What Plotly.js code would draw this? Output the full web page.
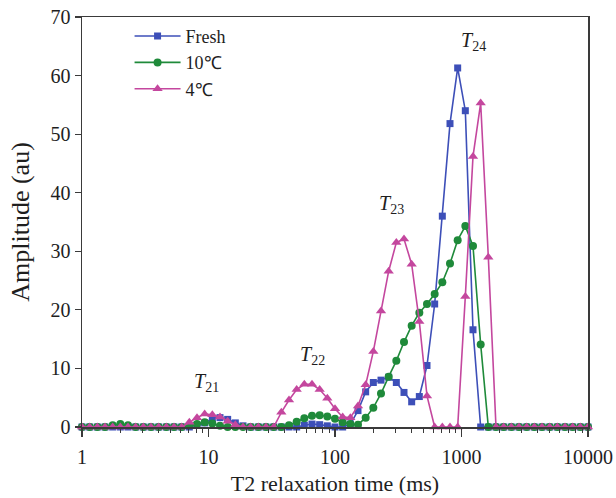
<!DOCTYPE html>
<html>
<head>
<meta charset="utf-8">
<script src="https://cdn.plot.ly/plotly-3.0.1.min.js"></script>
<style>html,body{margin:0;padding:0;background:#fff;}</style>
</head>
<body>
<div id="chart" style="width:616px;height:498px;"></div>
<script>
// T2 relaxation time grid (ms)
const t2 = [1, 1.1498, 1.3219, 1.5199, 1.7475, 2.0092, 2.3101, 2.6561, 3.0539, 3.5112,
  4.0370, 4.6416, 5.3367, 6.1359, 7.0548, 8.1113, 9.3260, 10.7227, 12.3285, 14.1747,
  16.2975, 18.7382, 21.5443, 24.7708, 28.4804, 32.7455, 37.6494, 43.2876, 49.7702, 57.2237,
  65.7933, 75.6463, 86.9749, 100, 114.976, 132.194, 151.991, 174.753, 200.923, 231.013,
  265.609, 305.386, 351.119, 403.702, 464.159, 533.670, 613.591, 705.480, 811.131, 932.603,
  1072.27, 1232.85, 1417.47, 1629.75, 1873.82, 2154.43, 2477.08, 2848.04, 3274.55, 3764.94,
  4328.76, 4977.02, 5722.37, 6579.33, 7564.63, 8697.49, 10000];

const fresh = [0,0,0,0,0,0,0,0,0,0,
  0,0,0,0,0,0.3,0.7,1.4,1.6,1.3,
  0.7,0.2,0,0,0,0,0,0,0,0.3,
  0.5,0.4,0.2,0,0,0.5,2.8,6.0,7.6,8.0,
  8.5,7.6,5.9,4.3,5.2,10.5,21.0,36.0,51.8,61.3,
  54.0,16.6,0,0,0,0,0,0,0,0,
  0,0,0,0,0,0,0];

const c10 = [0,0,0,0,0.3,0.5,0.3,0,0,0,
  0,0,0,0,0.3,0.5,0.8,0.6,0.2,0,
  0,0,0,0,0,0,0,0.3,0.9,1.5,
  1.9,2.0,1.8,1.4,0.8,0.5,0.4,1.6,3.3,5.7,
  8.6,11.3,14.5,17.3,19.5,21.0,22.7,24.7,27.9,31.9,
  34.3,30.9,14.1,0,0,0,0,0,0,0,
  0,0,0,0,0,0,0];

const c4 = [0,0,0,0,0,0,0,0,0,0,
  0,0,0,0,0.8,1.6,2.2,2.1,1.7,1.0,
  0.4,0,0,0,0,0,2.5,4.6,6.4,7.3,
  7.3,6.4,4.9,3.1,1.7,1.6,3.6,7.2,12.9,19.8,
  26.6,31.5,32.1,27.8,18.0,5.3,0,0,0,0,
  22.3,46.2,55.3,29.0,0,0,0,0,0,0,
  0,0,0,0,0,0,0];

const seriesNames = ['Fresh', '10\u2103', '4\u2103'];
const xTickVals = [1, 10, 100, 1000, 10000];
const xTickText = ['1', '10', '100', '1000', '10000'];
const peakLabels = ['<i>T</i><sub>21</sub>', '<i>T</i><sub>22</sub>', '<i>T</i><sub>23</sub>', '<i>T</i><sub>24</sub>'];
const peakX = [9.6, 66, 282, 1250];
const peakY = [7.6, 12.2, 38, 65.8];

const font = 'Liberation Serif, Times New Roman, serif';
const axisColor = '#3a3a3a';
const textColor = '#1e1e1e';

const traces = [
  {x: t2, y: fresh, name: seriesNames[0], mode: 'lines+markers', cliponaxis: false,
   line: {color: '#3d4fb8', width: 1.6}, marker: {symbol: 'square', size: 7, color: '#3d4fb8'}},
  {x: t2, y: c10, name: seriesNames[1], mode: 'lines+markers', cliponaxis: false,
   line: {color: '#1f8a3a', width: 1.6}, marker: {symbol: 'circle', size: 8, color: '#1f8a3a'}},
  {x: t2, y: c4, name: seriesNames[2], mode: 'lines+markers', cliponaxis: false,
   line: {color: '#c4479e', width: 1.6}, marker: {symbol: 'triangle-up', size: 9, color: '#c4479e'}}
];

const layout = {
  width: 616, height: 498,
  margin: {l: 82, r: 28, t: 17, b: 71},
  paper_bgcolor: '#fff', plot_bgcolor: '#fff',
  font: {family: font, size: 20, color: textColor},
  showlegend: true,
  legend: {x: 0.094, y: 0.998, xanchor: 'left', yanchor: 'top', bgcolor: 'rgba(0,0,0,0)',
           font: {family: font, size: 18, color: textColor}, tracegroupgap: 0, itemwidth: 46},
  xaxis: {type: 'log', range: [0, 4], tickmode: 'array', tickvals: xTickVals, ticktext: xTickText,
          ticks: 'outside', ticklen: 8, tickwidth: 1.2, tickcolor: axisColor,
          minor: {ticks: 'outside', ticklen: 4, tickwidth: 1, tickcolor: axisColor, dtick: 'D1', showgrid: false},
          showline: true, linecolor: axisColor, linewidth: 1.5, mirror: true,
          showgrid: false, zeroline: false, ticklabelstandoff: 3,
          tickfont: {family: font, size: 20, color: textColor},
          title: {text: 'T2 relaxation time (ms)', font: {family: font, size: 22, color: textColor}, standoff: 9}},
  yaxis: {range: [0, 70], dtick: 10, ticks: 'outside', ticklen: 6, tickwidth: 1.2, tickcolor: axisColor,
          showline: true, linecolor: axisColor, linewidth: 1.5, mirror: true,
          showgrid: false, zeroline: false,
          tickfont: {family: font, size: 20, color: textColor},
          title: {text: 'Amplitude (au)', font: {family: font, size: 26, color: textColor}, standoff: 13}},
  annotations: peakLabels.map((t, i) => ({
    x: Math.log10(peakX[i]), y: peakY[i], xref: 'x', yref: 'y', text: t, showarrow: false,
    font: {family: font, size: 20, color: textColor}
  }))
};

Plotly.newPlot('chart', traces, layout, {displayModeBar: false, staticPlot: true});
</script>
</body>
</html>
